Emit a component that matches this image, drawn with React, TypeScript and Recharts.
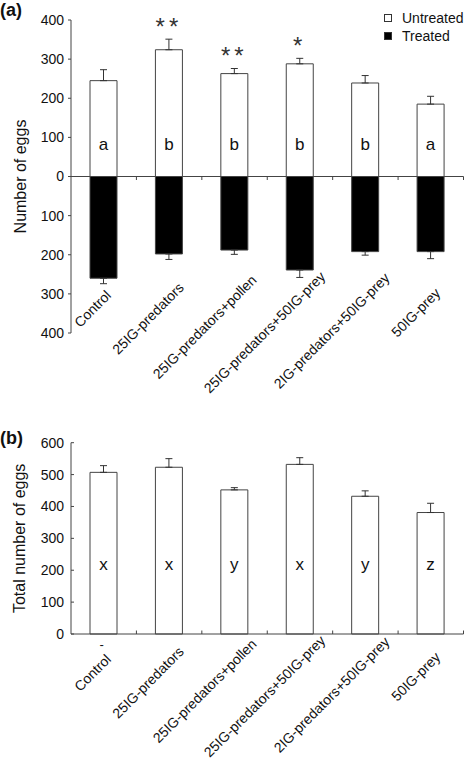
import React from 'react';
import { BarChart, Bar, XAxis, YAxis, ErrorBar, LabelList, ReferenceLine } from 'recharts';

const categories = [
  'Control',
  '25IG-predators',
  '25IG-predators+pollen',
  '25IG-predators+50IG-prey',
  '2IG-predators+50IG-prey',
  '50IG-prey',
];

// panel (a): eggs on untreated (up) and treated (down) halves
const untreatedEggs = [245, 324, 263, 288, 239, 185];
const untreatedSE = [28, 27, 13, 14, 19, 20];
const treatedEggs = [260, 198, 188, 239, 192, 192];
const treatedSE = [14, 14, 11, 19, 9, 18];
const lettersA = ['a', 'b', 'b', 'b', 'b', 'a'];
const significance = ['', '**', '**', '*', '', ''];
const ticksA = [-400, -300, -200, -100, 0, 100, 200, 300, 400];
const legendItems = ['Untreated', 'Treated'];

// panel (b): total eggs
const totalEggs = [507, 523, 452, 532, 432, 381];
const totalSE = [21, 27, 7, 21, 17, 29];
const lettersB = ['x', 'x', 'y', 'x', 'y', 'z'];
const underMarksB = ['-', '', '', '', '', ''];
const ticksB = [0, 100, 200, 300, 400, 500, 600];

const FONT = '"Liberation Sans", Arial, Helvetica, sans-serif';
const AXIS = '#444';
const SWATCH = ['#fff', '#000'];

const dataA = categories.map((name, i) => ({
  name,
  untreated: untreatedEggs[i],
  treated: -treatedEggs[i],
  untreatedErr: [0, untreatedSE[i]],
  treatedErr: [treatedSE[i], 0],
  letter: lettersA[i],
  stars: significance[i],
}));

const dataB = categories.map((name, i) => ({
  name,
  total: totalEggs[i],
  totalErr: [0, totalSE[i]],
  letter: lettersB[i],
}));

// zero line with short ticks at the category boundaries
const zeroAxis = (n: number, dir: number) => (props: any) => {
  const { x1, y1, x2 } = props;
  const step = (x2 - x1) / n;
  return (
    <g>
      <line x1={x1} y1={y1} x2={x2} y2={y1} stroke={AXIS} strokeWidth={1} />
      {Array.from({ length: n }, (_, i) => (
        <line key={i} x1={x1 + step * (i + 1)} y1={y1} x2={x1 + step * (i + 1)} y2={y1 + dir * 3.5} stroke={AXIS} strokeWidth={1} />
      ))}
    </g>
  );
};

function CategoryTick(props: any) {
  const { x, y, payload, base, marks, index } = props;
  const len = String(payload.value).length;
  const ex = x + 1 + 1.05 * len;
  const ey = y + base - 1.1 * len;
  const mark = marks ? marks[index] : '';
  return (
    <g>
      <text x={ex} y={ey} transform={`rotate(-45 ${ex} ${ey})`} textAnchor="end" fontSize={14} fontFamily={FONT} fill="#111">
        {payload.value}
      </text>
      {mark ? (
        <text x={x - 2} y={y + 15} textAnchor="middle" fontSize={13} fontFamily={FONT} fill="#111">{mark}</text>
      ) : null}
    </g>
  );
}

function YTitle(props: any) {
  const { viewBox, text } = props;
  const cx = 20;
  const cy = viewBox.y + viewBox.height / 2;
  return (
    <text x={cx} y={cy} transform={`rotate(-90 ${cx} ${cy})`} textAnchor="middle" dominantBaseline="central" fontSize={16} fontFamily={FONT} fill="#111">
      {text}
    </text>
  );
}

const letterLabel = (lift: number) => (props: any) => {
  const { x, y, width, height, value } = props;
  const zeroY = y + height;
  return (
    <text x={x + width / 2} y={zeroY - lift} textAnchor="middle" fontSize={17} fontFamily={FONT} fill="#111">
      {value}
    </text>
  );
};

const starLabel = (props: any) => {
  const { x, y, width, height, value, index } = props;
  if (!value) return null;
  const perUnit = height / untreatedEggs[index];
  const errTop = y - untreatedSE[index] * perUnit;
  return (
    <text x={x + width / 2} y={errTop - 17 + 12.5} textAnchor="middle" fontSize={24} letterSpacing={4} fontFamily={FONT} fill="#333">
      {value}
    </text>
  );
};

const panelTag: React.CSSProperties = {
  position: 'absolute',
  left: 0,
  fontFamily: FONT,
  fontWeight: 'bold',
  fontSize: 18,
  color: '#111',
};

export default function App() {
  return (
    <div style={{ position: 'absolute', left: 0, top: 0, width: 466, height: 764, background: '#fff', overflow: 'hidden' }}>
      <div style={{ position: 'absolute', left: 0, top: 0 }}>
        <BarChart width={466} height={420} data={dataA} stackOffset="sign" barSize={27} margin={{ top: 20, right: 2.5, left: 1, bottom: 57 }}>
          <XAxis dataKey="name" height={30} axisLine={false} tickLine={false} tickSize={0} tickMargin={0} interval={0} tick={<CategoryTick base={-29} />} />
          <YAxis
            domain={[-400, 400]}
            ticks={ticksA}
            interval={0}
            width={70}
            tickSize={3}
            tickMargin={4}
            tickFormatter={(v: number) => String(Math.abs(v))}
            axisLine={{ stroke: AXIS }}
            tickLine={{ stroke: AXIS }}
            tick={{ fill: '#111', fontSize: 14, fontFamily: FONT }}
            label={<YTitle text="Number of eggs" />}
          />
          <Bar dataKey="untreated" name="Untreated" stackId="s" fill="#fff" stroke={AXIS} isAnimationActive={false}>
            <ErrorBar dataKey="untreatedErr" width={3.5} stroke="#333" strokeWidth={1} direction="y" />
            <LabelList dataKey="letter" content={letterLabel(27)} />
            <LabelList dataKey="stars" content={starLabel} />
          </Bar>
          <Bar dataKey="treated" name="Treated" stackId="s" fill="#000" stroke={AXIS} isAnimationActive={false}>
            <ErrorBar dataKey="treatedErr" width={3.5} stroke="#333" strokeWidth={1} direction="y" />
          </Bar>
          <ReferenceLine y={0} stroke={AXIS} shape={zeroAxis(categories.length, 1)} />
        </BarChart>
      </div>
      <div style={{ ...panelTag, top: 0 }}>(a)</div>
      {/* legend kept outside the chart so it does not shrink the plot */}
      <div style={{ position: 'absolute', left: 384, top: 9, fontFamily: FONT, fontSize: 14, color: '#111', lineHeight: '18px' }}>
        {legendItems.map((label, i) => (
          <div key={label} style={{ display: 'flex', alignItems: 'center' }}>
            <span style={{ display: 'inline-block', width: 6, height: 6, border: '1px solid #333', background: SWATCH[i], marginRight: 10 }} />
            {label}
          </div>
        ))}
      </div>

      <div style={{ position: 'absolute', left: 0, top: 400 }}>
        <BarChart width={466} height={364} data={dataB} barSize={27} margin={{ top: 42.7, right: 2.5, left: 1, bottom: 100 }}>
          <XAxis dataKey="name" height={30} axisLine={false} tickLine={false} tickSize={0} tickMargin={0} interval={0} tick={<CategoryTick base={34} marks={underMarksB} />} />
          <YAxis
            domain={[0, 600]}
            ticks={ticksB}
            interval={0}
            width={70}
            tickSize={3}
            tickMargin={4}
            axisLine={{ stroke: AXIS }}
            tickLine={{ stroke: AXIS, transform: 'translate(3 0)' }}
            tick={{ fill: '#111', fontSize: 14, fontFamily: FONT }}
            label={<YTitle text="Total number of eggs" />}
          />
          <Bar dataKey="total" fill="#fff" stroke={AXIS} isAnimationActive={false}>
            <ErrorBar dataKey="totalErr" width={3.5} stroke="#333" strokeWidth={1} direction="y" />
            <LabelList dataKey="letter" content={letterLabel(64)} />
          </Bar>
          <ReferenceLine y={0} stroke={AXIS} shape={zeroAxis(categories.length, -1)} />
        </BarChart>
      </div>
      <div style={{ ...panelTag, top: 428 }}>(b)</div>
    </div>
  );
}
